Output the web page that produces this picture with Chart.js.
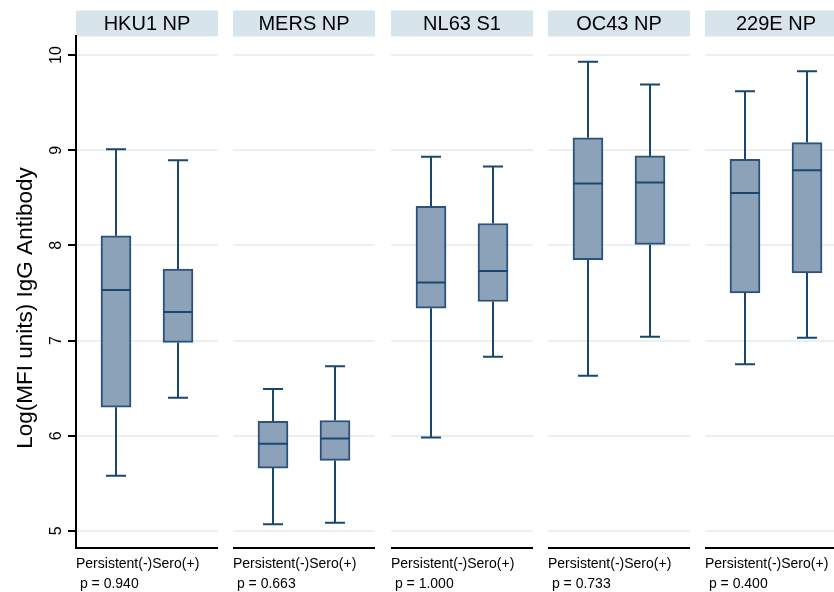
<!DOCTYPE html>
<html>
<head>
<meta charset="utf-8">
<script src="https://cdn.jsdelivr.net/npm/chart.js@4"></script>
<style>
  html, body { margin: 0; padding: 0; background: #fff; overflow: hidden; }
  #wrap { position: relative; width: 834px; height: 592px; overflow: hidden; }
  canvas { position: absolute; top: 0; }
</style>
</head>
<body>
<div id="wrap"></div>
<script>
// panels and groups
const panels = ["HKU1 NP", "MERS NP", "NL63 S1", "OC43 NP", "229E NP"];
const groups = ["Persistent(-)", "Sero(+)"];
const pValues = ["0.940", "0.663", "1.000", "0.733", "0.400"];
const yTicks = [5, 6, 7, 8, 9, 10];

// box values per panel: [Persistent(-), Sero(+)]
const whiskerLow  = [[5.58, 6.40], [5.07, 5.085], [5.98, 6.83], [6.63, 7.04], [6.75, 7.03]];
const q1          = [[6.30, 6.98], [5.66, 5.74],  [7.34, 7.41], [7.85, 8.01], [7.50, 7.71]];
const median      = [[7.53, 7.30], [5.915, 5.97], [7.61, 7.73], [8.65, 8.66], [8.55, 8.79]];
const q3          = [[8.10, 7.75], [6.15, 6.16],  [8.41, 8.23], [9.13, 8.94], [8.905, 9.08]];
const whiskerHigh = [[9.01, 8.895],[6.49, 6.73],  [8.93, 8.83], [9.93, 9.69], [9.62, 9.83]];

const FONT = "'Liberation Sans', Arial, Helvetica, sans-serif";
const navy = "#1a476f";
const boxFill = "#8ca2b8";
const boxLine = "#2b527b";
const gridColor = "#eaeff2";
const stripColor = "#d8e4eb";

// canvas left edge and width for each panel
const panelLeft = [0, 233, 391, 548, 705];
const panelWidth = [218, 142, 142, 142, 142];

//whiskers, caps, median + strip header + y title
const boxParts = {
    id: "boxParts",
    beforeDraw(chart) {
        const opts = chart.options.plugins.boxParts;
        const area = chart.chartArea;
        const ctx = chart.ctx;
        ctx.save();
        ctx.fillStyle = stripColor;
        ctx.fillRect(area.left, 10.5, area.right - area.left, 26);
        ctx.fillStyle = "#000";
        ctx.font = "20px " + FONT;
        ctx.textAlign = "center";
        ctx.textBaseline = "alphabetic";
        ctx.fillText(opts.header, (area.left + area.right) / 2, 30);
        if (opts.yTitle) {
            ctx.translate(32, 308);
            ctx.rotate(-Math.PI / 2);
            ctx.font = "22.5px " + FONT;
            ctx.fillText(opts.yTitle, 0, 0);
        }
        ctx.restore();
    },
    afterDatasetsDraw(chart) {
        const k = chart.options.plugins.boxParts.panel;
        const xs = chart.scales.x;
        const ys = chart.scales.y;
        const ctx = chart.ctx;
        ctx.save();
        ctx.strokeStyle = navy;
        ctx.lineWidth = 2;
        groups.forEach((g, i) => {
            const cx = xs.getPixelForValue(i);
            const lo = ys.getPixelForValue(whiskerLow[k][i]);
            const hi = ys.getPixelForValue(whiskerHigh[k][i]);
            const b = ys.getPixelForValue(q1[k][i]);
            const t = ys.getPixelForValue(q3[k][i]);
            const m = ys.getPixelForValue(median[k][i]);
            ctx.beginPath();
            ctx.moveTo(cx, t); ctx.lineTo(cx, hi);
            ctx.moveTo(cx, b); ctx.lineTo(cx, lo);
            ctx.moveTo(cx - 10, hi); ctx.lineTo(cx + 10, hi);
            ctx.moveTo(cx - 10, lo); ctx.lineTo(cx + 10, lo);
            ctx.moveTo(cx - 15, m); ctx.lineTo(cx + 15, m);
            ctx.stroke();
        });
        ctx.restore();
    }
};

const wrap = document.getElementById("wrap");

panels.forEach((name, k) => {
    const first = k === 0;
    const canvas = document.createElement("canvas");
    canvas.width = panelWidth[k];
    canvas.height = 592;
    canvas.style.left = panelLeft[k] + "px";
    canvas.style.width = panelWidth[k] + "px";
    canvas.style.height = "592px";
    wrap.appendChild(canvas);

    new Chart(canvas.getContext("2d"), {
        type: "bar",
        data: {
            datasets: [{
                data: groups.map((g, i) => ({ x: i, y: [q1[k][i], q3[k][i]] })),
                backgroundColor: boxFill,
                borderColor: boxLine,
                borderWidth: 2,
                borderSkipped: false,
                barThickness: 30
            }]
        },
        options: {
            responsive: false,
            animation: false,
            layout: { padding: { top: 36, left: 0, right: 0, bottom: 0 } },
            plugins: {
                legend: { display: false },
                tooltip: { enabled: false },
                boxParts: {
                    panel: k,
                    header: name,
                    yTitle: first ? "Log(MFI units) IgG Antibody" : null
                }
            },
            scales: {
                x: {
                    type: "linear",
                    min: -0.645,
                    max: 1.645,
                    offset: false,
                    ticks: { display: false },
                    grid: { display: false, drawTicks: false },
                    border: { display: true, color: "#000", width: 2 },
                    title: {
                        display: true,
                        text: [groups.join(""), " p = " + pValues[k]],
                        align: "start",
                        color: "#000",
                        font: { size: 14, family: FONT, lineHeight: 20 / 14 },
                        padding: { top: 0, bottom: -2 }
                    },
                    afterFit: (s) => { s.height = 44; }
                },
                y: {
                    type: "linear",
                    min: 4.82,
                    max: 10.2,
                    afterBuildTicks: (s) => { s.ticks = yTicks.map(v => ({ value: v })); },
                    ticks: {
                        display: first,
                        minRotation: 90,
                        maxRotation: 90,
                        crossAlign: "center",
                        padding: 3,
                        color: "#000",
                        font: { size: 16, family: FONT }
                    },
                    grid: {
                        color: gridColor,
                        lineWidth: 2,
                        drawTicks: first,
                        tickLength: 8,
                        tickColor: "#000",
                        tickWidth: 2
                    },
                    border: { display: first, color: "#000", width: 2 },
                    afterFit: (s) => { s.width = first ? 76 : 0; }
                }
            }
        },
        plugins: [boxParts]
    });
});
</script>
</body>
</html>
